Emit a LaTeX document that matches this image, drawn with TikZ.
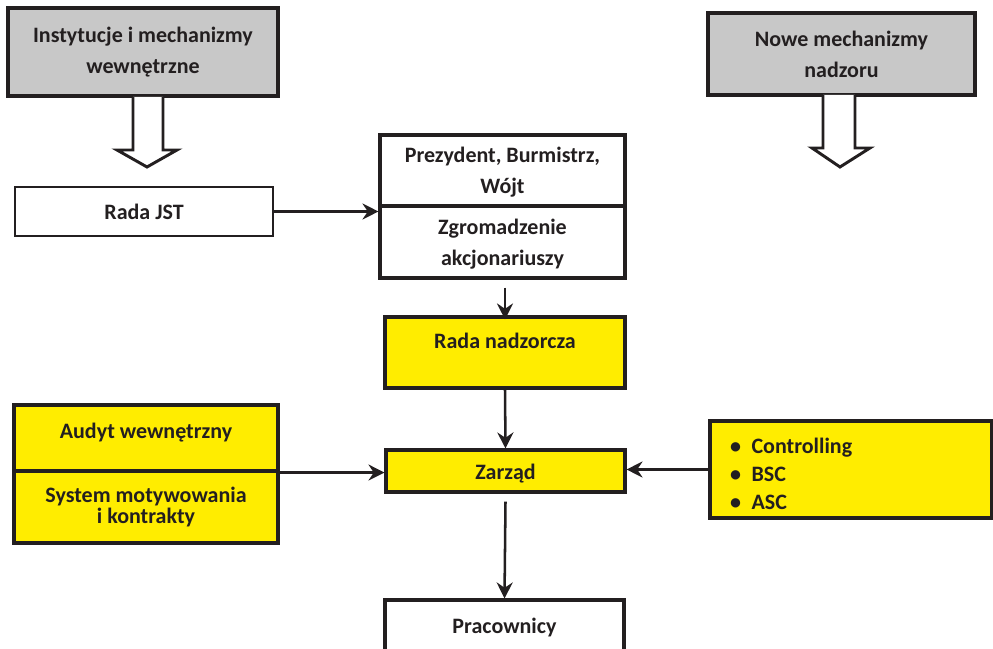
\documentclass[tikz,border=0pt]{standalone}
\usepackage{fontspec}
\setmainfont{Carlito}
\usetikzlibrary{arrows.meta}

\definecolor{boxgray}{RGB}{200,200,200}
\definecolor{boxyellow}{RGB}{255,237,0}
\definecolor{ink}{RGB}{35,31,32}

\begin{document}
\begin{tikzpicture}[x=0.75pt,y=-0.75pt,
  font=\fontsize{16.5}{23.25}\selectfont\bfseries, text=ink,
  box/.style={draw=ink, line width=2.3pt, rectangle, align=center, inner sep=0pt},
  graybox/.style={box, fill=boxgray, line width=3.2pt},
  yellowbox/.style={box, fill=boxyellow},
  arr/.style={draw=ink, line width=1.9pt, -{Stealth[length=12pt,width=12pt,inset=4pt]}},
  hollow/.style={draw=ink, line width=2.2pt, fill=white, line join=miter}]
\useasboundingbox (0,0) rectangle (993,649);

\node [graybox, minimum width=202.5pt, minimum height=66pt] (inst) at (143,52) {Instytucje i mechanizmy\\wewnętrzne};
\node [graybox, minimum width=200.25pt, minimum height=61.5pt, text depth=0pt] (nowe) at (841.5,54) {Nowe mechanizmy\\nadzoru};

\node [box, line width=1.9pt, minimum width=193.5pt, minimum height=36.75pt] (radajst) at (144,211.5) {Rada JST};
\node [box, minimum width=183.75pt, minimum height=53.25pt, text depth=0pt] (prez) at (502.5,170.5) {Prezydent, Burmistrz,\\Wójt};
\node [box, minimum width=183.75pt, minimum height=54pt, text depth=0pt] (zgrom) at (502.5,242) {Zgromadzenie\\akcjonariuszy};

\node [yellowbox, minimum width=180pt, minimum height=53.25pt, text depth=17pt] (radanadz) at (505,352.5) {Rada nadzorcza};
\node [yellowbox, minimum width=179.25pt, minimum height=31.5pt, text height=15pt] (zarzad) at (505.5,471) {Zarząd};
\node [box, minimum width=179.25pt, minimum height=39pt, text height=14pt] (prac) at (504.5,626) {Pracownicy};

\node [yellowbox, minimum width=198pt, minimum height=49.5pt, text depth=11pt] (audyt) at (146,438) {Audyt wewnętrzny};
\node [yellowbox, minimum width=198pt, minimum height=54pt, font=\fontsize{16.5}{15.75}\selectfont\bfseries] (system) at (146,507) {System motywowania\\i kontrakty};

\node [yellowbox, minimum width=211.5pt, minimum height=72.75pt, align=left, text width=181.5pt, inner xsep=15pt,
  text height=18pt, font=\fontsize{16.5}{21}\selectfont\bfseries] (ctrl) at (851,469.5)
  {\textbullet\hspace{8pt}Controlling\\\textbullet\hspace{8pt}BSC\\\textbullet\hspace{8pt}ASC};

% hollow arrows
\draw [hollow] (133,97) -- (133,150) -- (117,150) -- (147,167) -- (177,150) -- (163,150) -- (163,97);
\draw [hollow] (823,95) -- (823,148) -- (812,148) -- (840,167) -- (870,148) -- (855,148) -- (855,95);

% connectors
\path [arr] (radajst.east) -- (radajst.east -| prez.west);
\path [arr] ([yshift=-6pt]zgrom.south -| radanadz.north) -- ([yshift=-3pt]radanadz.north);
\path [arr] (radanadz.south) -- (zarzad.north);
\path [arr] (audyt.south east) -- (audyt.south east -| zarzad.west);
\path [arr] (ctrl.west) -- (ctrl.west -| zarzad.east);
\path [arr] ([yshift=-6pt]zarzad.south) -- (prac.north);
\end{tikzpicture}
\end{document}
